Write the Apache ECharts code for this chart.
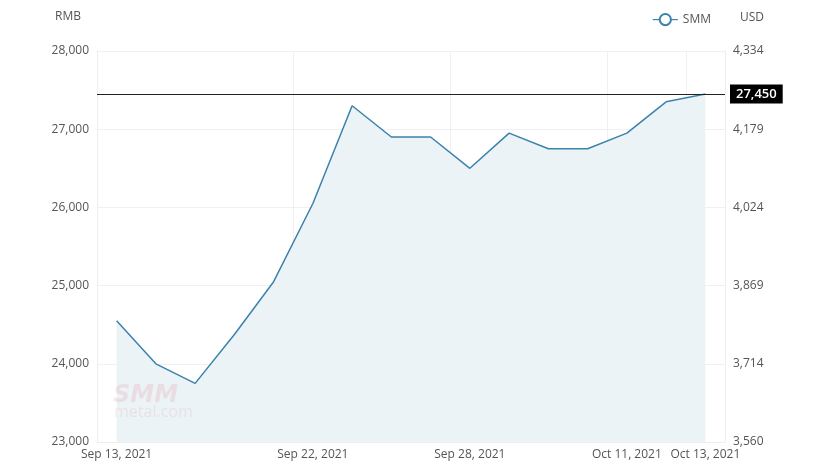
<!DOCTYPE html>
<html>
<head>
<meta charset="utf-8">
<script src="https://cdn.jsdelivr.net/npm/echarts@6/dist/echarts.min.js"></script>
<style>
  html, body { margin: 0; padding: 0; background: #fff; }
  #main { width: 826px; height: 474px; }
</style>
</head>
<body>
<div id="main"></div>
<script>
// 交易日
let dates = [
    "Sep 13, 2021", "Sep 14, 2021", "Sep 15, 2021", "Sep 16, 2021", "Sep 17, 2021",
    "Sep 22, 2021", "Sep 23, 2021", "Sep 24, 2021", "Sep 27, 2021", "Sep 28, 2021",
    "Sep 29, 2021", "Sep 30, 2021", "Oct 8, 2021", "Oct 11, 2021", "Oct 12, 2021",
    "Oct 13, 2021"
]
// SMM 价格 (RMB)
let smmPrices = [
    24550, 24000, 23750, 24375, 25050,
    26050, 27300, 26900, 26900, 26500,
    26950, 26750, 26750, 26950, 27350,
    27450
]
let shownDates = [0, 5, 9, 13, 15]
let rmbTicks = [23000, 24000, 25000, 26000, 27000, 28000]
let usdLabels = ["3,560", "3,714", "3,869", "4,024", "4,179", "4,334"]
let lastPrice = 27450

let font = "'Open Sans', 'Noto Sans', sans-serif"
let showIdx = (i) => shownDates.indexOf(i) >= 0

var myChart = echarts.init(document.getElementById('main'))

var option = {
    animation: false,
    textStyle: { fontFamily: font },
    legend: {
        data: ['SMM'],
        right: 110,
        top: 8,
        itemWidth: 25,
        itemHeight: 14,
        itemGap: 6,
        itemStyle: { borderWidth: 1 },
        lineStyle: { width: 1.2 },
        textStyle: { color: '#555', fontSize: 12, fontFamily: font }
    },
    grid: { left: 97, right: 101, top: 51, bottom: 32 },
    xAxis: {
        type: 'category',
        data: dates,
        boundaryGap: true,
        axisLine: { show: true, lineStyle: { color: '#eeeeee' } },
        axisTick: { show: false, interval: (i) => showIdx(i) },
        axisLabel: {
            interval: (i) => showIdx(i),
            color: '#555',
            fontSize: 12,
            margin: 7
        },
        splitLine: {
            show: true,
            interval: (i) => showIdx(i),
            lineStyle: { color: '#f0f0f0' }
        }
    },
    yAxis: [
        {
            type: 'value',
            name: 'RMB',
            nameLocation: 'end',
            nameGap: 28,
            nameTextStyle: { color: '#555', fontSize: 12, align: 'right', padding: [0, 16, 0, 0] },
            min: rmbTicks[0],
            max: rmbTicks[rmbTicks.length - 1],
            interval: 1000,
            axisLine: { show: true, lineStyle: { color: '#eeeeee' } },
            axisTick: { show: false },
            axisLabel: {
                color: '#555',
                fontSize: 12,
                margin: 8,
                formatter: (v) => v.toLocaleString('en-US')
            },
            splitLine: { lineStyle: { color: '#f0f0f0' } }
        },
        {
            type: 'value',
            name: 'USD',
            nameLocation: 'end',
            nameGap: 27,
            nameTextStyle: { color: '#555', fontSize: 12, align: 'left', padding: [0, 0, 0, 15] },
            position: 'right',
            min: rmbTicks[0],
            max: rmbTicks[rmbTicks.length - 1],
            interval: 1000,
            axisLine: { show: true, lineStyle: { color: '#eeeeee' } },
            axisTick: { show: false },
            axisLabel: {
                color: '#555',
                fontSize: 12,
                margin: 8,
                formatter: (v) => usdLabels[rmbTicks.indexOf(v)]
            },
            splitLine: { show: false }
        }
    ],
    graphic: [
        {
            type: 'text',
            left: 113,
            top: 384,
            z: 100,
            silent: true,
            style: {
                text: 'SMM',
                fill: 'rgba(225, 90, 90, 0.14)',
                font: 'italic 900 24px "DejaVu Sans", sans-serif'
            }
        },
        {
            type: 'text',
            left: 114,
            top: 404,
            z: 100,
            silent: true,
            style: {
                text: 'metal.com',
                fill: 'rgba(225, 90, 90, 0.12)',
                font: '16px "Open Sans", sans-serif'
            }
        }
    ],
    series: [
        {
            name: 'SMM',
            type: 'line',
            data: smmPrices,
            symbol: 'emptyCircle',
            symbolSize: 8,
            showSymbol: false,
            lineStyle: { color: '#3b82ad', width: 1.5 },
            itemStyle: { color: '#3b82ad', borderWidth: 1 },
            areaStyle: { color: '#ebf3f7', opacity: 1 },
            markLine: {
                silent: true,
                symbol: ['none', 'none'],
                lineStyle: { color: '#222', type: 'solid', width: 1 },
                label: {
                    position: 'end',
                    distance: 5,
                    formatter: () => lastPrice.toLocaleString('en-US'),
                    backgroundColor: '#000',
                    color: '#fff',
                    fontSize: 13,
                    fontWeight: 600,
                    padding: [3, 6, 3, 6]
                },
                data: [{ yAxis: lastPrice }]
            }
        }
    ]
}

myChart.setOption(option)
</script>
</body>
</html>
